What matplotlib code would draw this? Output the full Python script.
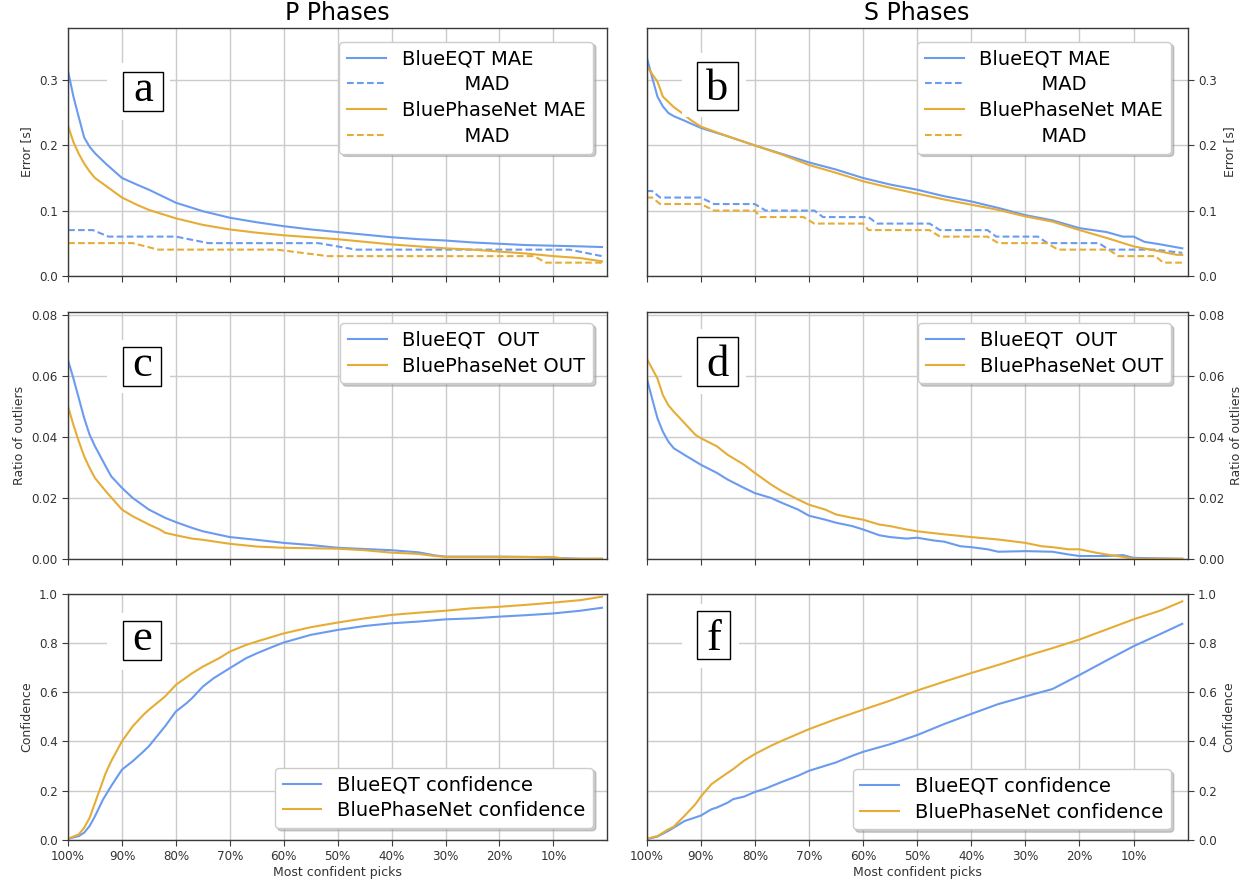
import matplotlib
matplotlib.use("Agg")
import matplotlib.pyplot as plt
from matplotlib.patches import Rectangle
from matplotlib.transforms import offset_copy

BLUE = "#6b9bef"
ORANGE = "#e6ad36"

# ---------------- Error (P phases) ----------------
a_eqt_mae_x = [100, 99, 98, 97, 96, 95, 93, 90, 87, 85, 80, 75, 70, 65, 60, 55, 50, 45, 40, 35, 30, 25, 20, 15, 10, 5, 1]
a_eqt_mae = [0.314, 0.275, 0.243, 0.212, 0.198, 0.188, 0.172, 0.150, 0.139, 0.132, 0.112, 0.099, 0.089, 0.082, 0.076,
             0.071, 0.067, 0.063, 0.059, 0.056, 0.054, 0.051, 0.049, 0.047, 0.046, 0.045, 0.044]
a_pn_mae_x = [100, 99, 98, 97, 96, 95, 93, 90, 87, 85, 80, 75, 70, 65, 60, 55, 50, 45, 40, 35, 30, 25, 20, 15, 10, 5, 1]
a_pn_mae = [0.230, 0.205, 0.187, 0.172, 0.160, 0.150, 0.138, 0.120, 0.108, 0.101, 0.088, 0.078, 0.071, 0.066, 0.062,
            0.059, 0.056, 0.052, 0.048, 0.045, 0.042, 0.040, 0.037, 0.034, 0.030, 0.027, 0.022]
a_eqt_mad_x = [100, 95.4, 92.5, 80, 74, 53.6, 46.6, 7, 1]
a_eqt_mad = [0.07, 0.07, 0.06, 0.06, 0.05, 0.05, 0.04, 0.04, 0.03]
a_pn_mad_x = [100, 88, 83.3, 61.3, 51.8, 13.6, 11.4, 1]
a_pn_mad = [0.05, 0.05, 0.04, 0.04, 0.03, 0.03, 0.02, 0.02]

# ---------------- Error (S phases) ----------------
b_eqt_mae_x = [100, 99, 98, 97, 96, 95, 93, 90, 85, 80, 75, 70, 65, 60, 55, 50, 45, 40, 35, 30, 25, 20, 15, 12, 10, 8, 5, 1]
b_eqt_mae = [0.336, 0.305, 0.275, 0.260, 0.250, 0.245, 0.238, 0.227, 0.214, 0.200, 0.187, 0.174, 0.163, 0.150, 0.140,
             0.132, 0.122, 0.114, 0.104, 0.093, 0.085, 0.073, 0.067, 0.060, 0.060, 0.052, 0.048, 0.042]
b_pn_mae_x = [100, 98, 97, 95, 93, 92, 90, 85, 80, 75, 70, 65, 60, 55, 50, 45, 40, 35, 30, 25, 20, 15, 10, 5, 2, 1]
b_pn_mae = [0.322, 0.298, 0.275, 0.259, 0.247, 0.240, 0.229, 0.214, 0.200, 0.186, 0.170, 0.158, 0.145, 0.135, 0.126,
            0.117, 0.109, 0.101, 0.091, 0.083, 0.070, 0.058, 0.045, 0.037, 0.032, 0.032]
b_eqt_mad_x = [100, 99, 97.5, 90, 87.5, 80, 78, 69, 67.4, 59, 57.4, 47.7, 45.8, 37, 35.4, 27.7, 25.9, 16.4, 14.6, 6, 1]
b_eqt_mad = [0.13, 0.13, 0.12, 0.12, 0.11, 0.11, 0.10, 0.10, 0.09, 0.09, 0.08, 0.08, 0.07, 0.07, 0.06, 0.06, 0.05,
             0.05, 0.04, 0.04, 0.035]
b_pn_mad_x = [100, 99, 97.5, 90, 87.5, 80, 79, 71, 69, 60, 59, 47.7, 45.8, 37, 35, 26, 24, 14.6, 12.8, 6, 4.5, 1]
b_pn_mad = [0.12, 0.12, 0.11, 0.11, 0.10, 0.10, 0.09, 0.09, 0.08, 0.08, 0.07, 0.07, 0.06, 0.06, 0.05, 0.05, 0.04,
            0.04, 0.03, 0.03, 0.02, 0.02]

# ---------------- Outlier ratio ----------------
c_eqt_x = [100, 99, 98, 97, 96, 95, 93, 92, 90, 88, 85, 82, 80, 77, 75, 70, 65, 60, 55, 50, 45, 40, 35, 32, 30, 20, 15, 10, 5, 1]
c_eqt = [0.0652, 0.0592, 0.0527, 0.0462, 0.0408, 0.0370, 0.0304, 0.0272, 0.0234, 0.0201, 0.0163, 0.0136, 0.0122,
         0.0103, 0.0092, 0.0073, 0.0064, 0.0054, 0.0047, 0.0038, 0.0034, 0.0030, 0.0023, 0.0013, 0.0009, 0.0009,
         0.0008, 0.0005, 0.0002, 0.0002]
c_pn_x = [100, 99, 98, 97, 96, 95, 93, 90, 88, 85, 83, 82, 80, 77, 75, 70, 65, 60, 50, 45, 40, 35, 32, 30, 20, 10, 8, 1]
c_pn = [0.050, 0.044, 0.0386, 0.0337, 0.0299, 0.0266, 0.0223, 0.0163, 0.0141, 0.0114, 0.0098, 0.0087, 0.0079,
        0.0068, 0.0064, 0.0051, 0.0042, 0.0038, 0.0035, 0.0030, 0.0022, 0.0018, 0.0011, 0.0008, 0.0008, 0.0008,
        0.0002, 0.0002]
d_eqt_x = [100, 99, 98, 97, 96, 95, 94, 93, 90, 87, 85, 82, 80, 77, 75, 72, 70, 67, 65, 62, 60, 57, 55, 52, 50, 47,
           45, 42, 40, 37, 35, 30, 25, 22, 20, 15, 12, 10, 1]
d_eqt = [0.0595, 0.0527, 0.0462, 0.0418, 0.0386, 0.0364, 0.0353, 0.0342, 0.0310, 0.0283, 0.0261, 0.0234, 0.0217,
         0.0201, 0.0185, 0.0163, 0.0143, 0.0130, 0.0120, 0.0109, 0.0098, 0.0079, 0.0073, 0.0068, 0.0071, 0.0062,
         0.0058, 0.0043, 0.0040, 0.0033, 0.0025, 0.0027, 0.0025, 0.0016, 0.0011, 0.0011, 0.0014, 0.0005, 0.0002]
d_pn_x = [100, 98, 97, 96, 95, 93, 91, 90, 87, 85, 82, 80, 77, 75, 72, 70, 67, 65, 62, 60, 57, 55, 52, 50, 45, 40,
          35, 30, 27, 25, 22, 20, 17, 15, 13, 10, 1]
d_pn = [0.0658, 0.0592, 0.0538, 0.0505, 0.0484, 0.0446, 0.0408, 0.0397, 0.0370, 0.0342, 0.0310, 0.0283, 0.0245,
        0.0223, 0.0196, 0.0179, 0.0163, 0.0147, 0.0136, 0.0130, 0.0114, 0.0109, 0.0098, 0.0092, 0.0082, 0.0073,
        0.0065, 0.0054, 0.0043, 0.0040, 0.0033, 0.0033, 0.0022, 0.0016, 0.0011, 0.0002, 0.0002]

# ---------------- Confidence ----------------
e_eqt_x = [100, 98, 97, 96, 95, 93.5, 92, 90, 88, 87, 86, 85, 84, 82, 80, 78, 77, 75, 73, 70, 67, 65, 62, 60, 55, 50,
           45, 40, 35, 30, 25, 20, 15, 10, 5, 1]
e_eqt = [0.005, 0.016, 0.030, 0.057, 0.097, 0.165, 0.219, 0.286, 0.320, 0.340, 0.360, 0.381, 0.408, 0.462, 0.522,
         0.556, 0.576, 0.623, 0.657, 0.698, 0.738, 0.758, 0.785, 0.802, 0.833, 0.853, 0.869, 0.880, 0.887, 0.896,
         0.900, 0.907, 0.913, 0.920, 0.931, 0.943]
e_pn_x = [100, 98, 97, 96, 95, 94, 93, 92, 90, 88, 86, 85, 82, 80, 77, 75, 72, 70, 67, 65, 60, 55, 50, 45, 40, 35,
          30, 25, 20, 15, 10, 5, 1]
e_pn = [0.005, 0.023, 0.050, 0.090, 0.151, 0.212, 0.273, 0.320, 0.401, 0.462, 0.509, 0.529, 0.583, 0.630, 0.677,
        0.704, 0.738, 0.765, 0.792, 0.806, 0.839, 0.864, 0.883, 0.900, 0.914, 0.923, 0.931, 0.941, 0.947, 0.955,
        0.964, 0.974, 0.988]
f_eqt_x = [100, 98, 96, 95, 93, 90, 88, 87, 85, 84, 82, 80, 78, 75, 72, 70, 65, 62, 60, 55, 50, 45, 40, 35, 30, 25,
           20, 15, 10, 5, 1]
f_eqt = [0.003, 0.014, 0.037, 0.050, 0.077, 0.099, 0.125, 0.132, 0.152, 0.166, 0.176, 0.195, 0.209, 0.236, 0.261,
         0.281, 0.315, 0.342, 0.358, 0.389, 0.426, 0.471, 0.512, 0.552, 0.583, 0.613, 0.670, 0.729, 0.787, 0.837,
         0.878]
f_pn_x = [100, 98, 96, 95, 93, 91, 90, 88, 86, 84, 82, 80, 77, 75, 70, 65, 60, 55, 50, 45, 40, 35, 30, 25, 20, 15,
          10, 5, 1]
f_pn = [0.005, 0.016, 0.043, 0.054, 0.098, 0.145, 0.176, 0.227, 0.258, 0.288, 0.322, 0.349, 0.383, 0.403, 0.450,
        0.491, 0.529, 0.566, 0.607, 0.643, 0.678, 0.711, 0.746, 0.779, 0.814, 0.855, 0.896, 0.932, 0.969]

x_ticks = [100, 90, 80, 70, 60, 50, 40, 30, 20, 10]
x_tick_labels = ["100%", "90%", "80%", "70%", "60%", "50%", "40%", "30%", "20%", "10%"]
col_titles = ["P Phases", "S Phases"]

SPINE = "#3a3a3a"
TXT = "#333333"

fig = plt.figure(figsize=(12.51, 8.83), dpi=100)

col_left = [0.0544, 0.5169]
col_width = [0.4311, 0.4325]
row_bottom = [0.6878, 0.3665, 0.0487]
row_height = [0.2802, 0.2802, 0.2789]

axes = {}
for r in range(3):
    for c in range(2):
        ax = fig.add_axes([col_left[c], row_bottom[r], col_width[c], row_height[r]])
        axes[(r, c)] = ax
        ax.set_xlim(100, 0)
        ax.set_xticks(x_ticks)
        ax.grid(True, color="#cbcbcb", linewidth=1.0)
        ax.set_axisbelow(True)
        for sp in ax.spines.values():
            sp.set_color(SPINE)
            sp.set_linewidth(1.0)
        ax.tick_params(labelsize=8.6, colors=TXT, color=SPINE, length=4)
        if r == 2:
            ax.set_xticklabels(x_tick_labels)
            ax.set_xlabel("Most confident picks", fontsize=9, color=TXT, labelpad=2)
        else:
            ax.set_xticklabels([])
        if c == 1:
            ax.yaxis.tick_right()
            ax.yaxis.set_label_position("right")


def letter_box(ax, letter, box, white):
    wx0, wx1, wy0, wy1 = white
    ax.add_patch(Rectangle((wx0, wy0), wx1 - wx0, wy1 - wy0, transform=ax.transAxes,
                           facecolor="white", edgecolor="none", zorder=2.5))
    bx0, bx1, by0, by1 = box
    ax.add_patch(Rectangle((bx0, by0), bx1 - bx0, by1 - by0, transform=ax.transAxes,
                           facecolor="white", edgecolor="black", linewidth=1.0, zorder=2.6))
    tr = offset_copy(ax.transAxes, fig=fig, y=9.5 * 72 / 100, units="points")
    ax.text((bx0 + bx1) / 2, by0, letter, transform=tr, ha="center", va="baseline",
            fontsize=32, family="Liberation Serif", zorder=2.7)


LEG = dict(fontsize=14, shadow={"color": "#9a9a9a", "alpha": 0.5}, framealpha=1, edgecolor="#cccccc",
           labelspacing=0.35, borderaxespad=0, handlelength=2.0)
LW = 1.5
DASH = (3.2, 1.6)

# Row 1: MAE / MAD
for c, (ex, ey, px, py, emx, emy, pmx, pmy) in enumerate([
        (a_eqt_mae_x, a_eqt_mae, a_pn_mae_x, a_pn_mae, a_eqt_mad_x, a_eqt_mad, a_pn_mad_x, a_pn_mad),
        (b_eqt_mae_x, b_eqt_mae, b_pn_mae_x, b_pn_mae, b_eqt_mad_x, b_eqt_mad, b_pn_mad_x, b_pn_mad)]):
    ax = axes[(0, c)]
    ax.plot(ex, ey, color=BLUE, lw=LW, label="BlueEQT MAE")
    ax.plot(emx, emy, color=BLUE, lw=LW, ls="--", dashes=DASH, label="          MAD")
    ax.plot(px, py, color=ORANGE, lw=LW, label="BluePhaseNet MAE")
    ax.plot(pmx, pmy, color=ORANGE, lw=LW, ls="--", dashes=DASH, label="          MAD")
    ax.set_ylim(0, 0.38)
    ax.set_yticks([0.0, 0.1, 0.2, 0.3])
    ax.set_ylabel("Error [s]", fontsize=9, color=TXT)
    ax.set_title(col_titles[c], fontsize=17, pad=6)
    anchor = (0.9735, 0.946) if c == 0 else (0.969, 0.946)
    ax.legend(loc="upper right", bbox_to_anchor=anchor, **LEG)

# Row 2: outliers
for c, (ex, ey, px, py) in enumerate([(c_eqt_x, c_eqt, c_pn_x, c_pn), (d_eqt_x, d_eqt, d_pn_x, d_pn)]):
    ax = axes[(1, c)]
    ax.plot(ex, ey, color=BLUE, lw=LW, label="BlueEQT  OUT")
    ax.plot(px, py, color=ORANGE, lw=LW, label="BluePhaseNet OUT")
    ax.set_ylim(0, 0.081)
    ax.set_yticks([0.0, 0.02, 0.04, 0.06, 0.08])
    ax.set_yticklabels(["0.00", "0.02", "0.04", "0.06", "0.08"])
    ax.set_ylabel("Ratio of outliers", fontsize=9, color=TXT)
    anchor = (0.9735, 0.9555) if c == 0 else (0.969, 0.9555)
    ax.legend(loc="upper right", bbox_to_anchor=anchor, **LEG)

# Row 3: confidence
for c, (ex, ey, px, py) in enumerate([(e_eqt_x, e_eqt, e_pn_x, e_pn), (f_eqt_x, f_eqt, f_pn_x, f_pn)]):
    ax = axes[(2, c)]
    ax.plot(ex, ey, color=BLUE, lw=LW, label="BlueEQT confidence")
    ax.plot(px, py, color=ORANGE, lw=LW, label="BluePhaseNet confidence")
    ax.set_ylim(0, 1.0)
    ax.set_yticks([0.0, 0.2, 0.4, 0.6, 0.8, 1.0])
    ax.set_ylabel("Confidence", fontsize=9, color=TXT)
    anchor = (0.9735, 0.0487) if c == 0 else (0.969, 0.043)
    ax.legend(loc="lower right", bbox_to_anchor=anchor, **LEG)

letter_box(axes[(0, 0)], "a", (0.1025, 0.176, 0.666, 0.823), (0.0723, 0.189, 0.629, 0.860))
letter_box(axes[(0, 1)], "b", (0.093, 0.168, 0.670, 0.864), (0.065, 0.183, 0.640, 0.900))
letter_box(axes[(1, 0)], "c", (0.1025, 0.173, 0.702, 0.860), (0.073, 0.189, 0.673, 0.887))
letter_box(axes[(1, 1)], "d", (0.093, 0.168, 0.702, 0.900), (0.065, 0.183, 0.670, 0.930))
letter_box(axes[(2, 0)], "e", (0.1025, 0.173, 0.731, 0.889), (0.073, 0.189, 0.690, 0.922))
letter_box(axes[(2, 1)], "f", (0.0933, 0.1545, 0.734, 0.931), (0.065, 0.171, 0.700, 0.960))

fig.savefig("out.png", dpi=100)
